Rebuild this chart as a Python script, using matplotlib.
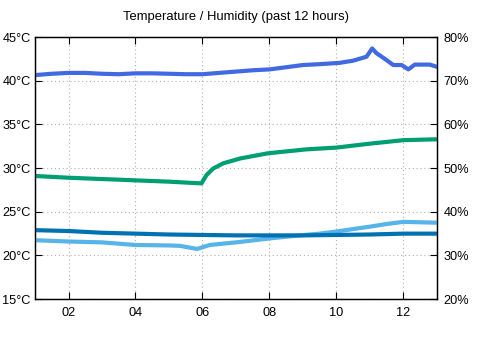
import numpy as np
import matplotlib.pyplot as plt

plt.rcParams['font.family'] = ['Liberation Sans', 'DejaVu Sans']

# temperature series (left axis, deg C)
temp1_h = [1.0, 2.0, 3.0, 4.0, 5.0, 6.0, 7.0, 8.0, 9.0, 10.0, 11.0, 12.0, 13.0]
temp1_v = [22.9, 22.8, 22.6, 22.5, 22.4, 22.35, 22.3, 22.3, 22.3, 22.35, 22.4, 22.5, 22.5]
temp2_h = [1.0, 2.0, 3.0, 4.0, 5.0, 5.33, 5.84, 6.22, 7.12, 8.0, 8.9, 9.5, 10.1, 11.0, 11.5, 12.0, 12.5, 13.0]
temp2_v = [21.75, 21.6, 21.5, 21.2, 21.15, 21.1, 20.75, 21.2, 21.55, 21.95, 22.3, 22.5, 22.8,
           23.3, 23.6, 23.85, 23.8, 23.75]

# humidity series (right axis, %)
hum1_h = [1.0, 1.5, 2.0, 2.5, 3.0, 3.5, 4.0, 4.5, 5.0, 5.5, 6.0, 6.5, 7.0, 7.5, 8.0,
          8.5, 9.0, 9.5, 10.1, 10.5, 10.9, 11.07, 11.2, 11.45, 11.7, 11.95, 12.15, 12.34, 12.79, 13.0]
hum1_v = [71.3, 71.6, 71.8, 71.8, 71.6, 71.5, 71.7, 71.7, 71.6, 71.5, 71.5, 71.8, 72.1, 72.4, 72.6,
          73.1, 73.6, 73.8, 74.1, 74.6, 75.5, 77.4, 76.3, 75.0, 73.6, 73.6, 72.6, 73.7, 73.7, 73.2]
hum2_h = [1.0, 2.0, 3.0, 4.0, 5.0, 5.97, 6.12, 6.32, 6.62, 7.12, 7.96, 9.11, 10.0, 11.0, 12.0, 13.0]
hum2_v = [48.2, 47.8, 47.5, 47.2, 46.9, 46.5, 48.4, 49.9, 51.1, 52.2, 53.4, 54.3, 54.7, 55.6, 56.4, 56.6]

fig = plt.figure(figsize=(4.8, 3.6), dpi=100)
ax = fig.add_axes([0.073, 0.169, 0.837, 0.728])
ax2 = ax.twinx()

lw = 3.0
ax2.plot(hum1_h, hum1_v, color='#4169e1', lw=lw, solid_capstyle='round')
ax2.plot(hum2_h, hum2_v, color='#009e73', lw=lw, solid_capstyle='round')
ax.plot(temp2_h, temp2_v, color='#56b4e9', lw=lw, solid_capstyle='round', zorder=3)
ax.plot(temp1_h, temp1_v, color='#0072b2', lw=lw, solid_capstyle='round', zorder=4)

ax.set_xlim(1, 13)
ax.set_ylim(15, 45)
ax2.set_ylim(20, 80)
ax.set_xticks(range(2, 13, 2))
ax.set_xticklabels(['%02d' % h for h in range(2, 13, 2)])
ax.set_yticks(range(15, 46, 5))
ax.set_yticklabels(['%d°C' % t for t in range(15, 46, 5)])
ax2.set_yticks(range(20, 81, 10))
ax2.set_yticklabels(['%d%%' % p for p in range(20, 81, 10)])

ax.grid(True, color='#b0b0b0', linestyle=(0, (1, 2.5)), linewidth=0.8)
ax.tick_params(axis='y', direction='in', length=5, width=0.8, labelsize=9.2, pad=3)
ax.tick_params(axis='x', direction='in', length=5, width=0.8, labelsize=9.2, top=True, pad=6)
ax2.tick_params(direction='in', length=5, width=0.8, labelsize=9.2, pad=5)
ax.set_title('Temperature / Humidity (past 12 hours)', fontsize=9.4, pad=12)
for a in (ax, ax2):
    for s in a.spines.values():
        s.set_linewidth(0.9)

fig.savefig('out.png', dpi=100)
